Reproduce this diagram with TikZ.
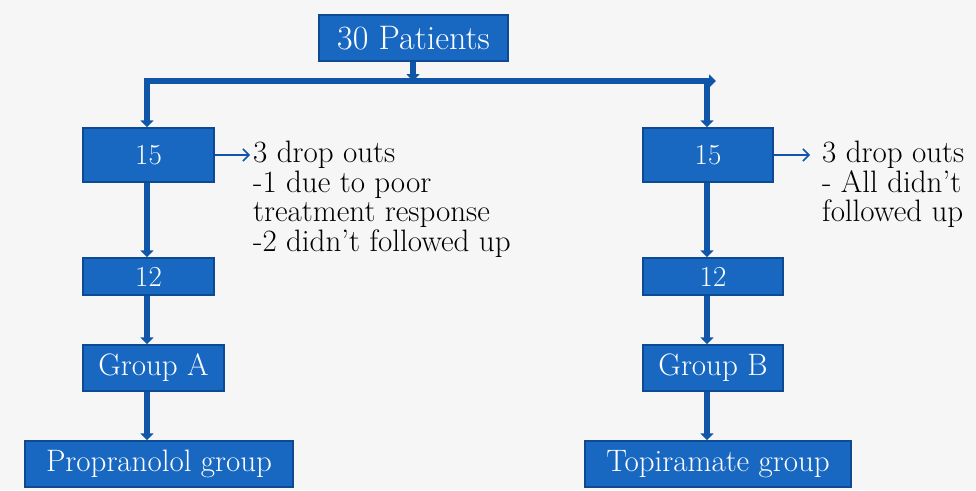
\documentclass[tikz,border=0pt]{standalone}
\usepackage{tikz}
\usetikzlibrary{calc}
\usetikzlibrary{positioning}
\usetikzlibrary{arrows.meta}
\definecolor{boxblue}{RGB}{24,104,194}
\definecolor{edgeblue}{RGB}{14,74,148}
\definecolor{flowblue}{RGB}{16,86,168}
\definecolor{bggray}{RGB}{246,246,246}

\tikzset{
  blue box/.style={draw=edgeblue, line width=1.5pt, fill=boxblue, text=white,
    inner sep=0pt, font=\fontsize{31}{33}\selectfont},
  num box/.style={blue box, font=\fontsize{29}{31}\selectfont},
  flow/.style={draw=flowblue, line width=6pt,
    -{Triangle[width=13pt,length=7pt]}},
  thin flow/.style={draw=flowblue, line width=1.5pt, -{Straight Barb[length=6pt,width=12pt]}},
  drop text/.style={align=left, anchor=north west, inner sep=0pt,
    font=\fontsize{31}{29.5}\selectfont}
}

\begin{document}
\begin{tikzpicture}[x=1pt, y=-1pt]
        \fill[bggray] (0,0) rectangle (976,490);
        \useasboundingbox (0,0) rectangle (976,490);

        % boxes
        \node[blue box, minimum width=189pt, minimum height=46pt, font=\fontsize{34}{36}\selectfont] (pat) at (413.5,38) {30 Patients};

        \node[num box, minimum width=131pt, minimum height=54pt] (a15) at (148.5,155) {15};
        \node[num box, minimum width=131pt, minimum height=37pt] (a12) at (148.5,276.5) {12};
        \node[blue box, minimum width=141pt, minimum height=46pt] (grpA) at (153.5,368) {Group A};
        \node[blue box, minimum width=268pt, minimum height=46pt] (prop) at (159,464) {Propranolol group};

        \node[num box, minimum width=130pt, minimum height=54pt] (b15) at (708,155) {15};
        \node[num box, minimum width=140pt, minimum height=37pt] (b12) at (713,276.5) {12};
        \node[blue box, minimum width=140pt, minimum height=46pt] (grpB) at (713,368) {Group B};
        \node[blue box, minimum width=266pt, minimum height=46pt] (topi) at (718,464) {Topiramate group};

        % drop outs
        \node[drop text] (dropA) at (253,141) {3 drop outs\\-1 due to poor\\treatment response\\-2 didn’t followed up};
        \node[drop text] (dropB) at (822,141) {3 drop outs\\- All didn’t\\followed up};

        \path
        (147,81) coordinate (lcorner)
        (707,81) coordinate (rcorner)
        (716,81) coordinate (rtip)
        (413,81) coordinate (split)
        ;

        % split
        \draw[flow] (pat.south -| split) -- (split);
        \draw[flow, {Triangle[width=13pt,length=7pt]}-{Triangle[width=13pt,length=7pt]}, line join=miter]
          (rtip) -- (lcorner) -- (lcorner |- a15.north);
        \draw[flow] (rcorner) -- (rcorner |- b15.north);

        % left column
        \draw[flow] (lcorner |- a15.south) -- (lcorner |- a12.north);
        \draw[flow] (lcorner |- a12.south) -- (lcorner |- grpA.north);
        \draw[flow] (lcorner |- grpA.south) -- (lcorner |- prop.north);

        % right column
        \draw[flow] (rcorner |- b15.south) -- (rcorner |- b12.north);
        \draw[flow] (rcorner |- b12.south) -- (rcorner |- grpB.north);
        \draw[flow] (rcorner |- grpB.south) -- (rcorner |- topi.north);

        \draw[thin flow, shorten >=3pt] (a15.east) -- (dropA.north west |- a15.east);
        \draw[thin flow, shorten >=12pt] (b15.east) -- (dropB.north west |- b15.east);
\end{tikzpicture}
\end{document}
